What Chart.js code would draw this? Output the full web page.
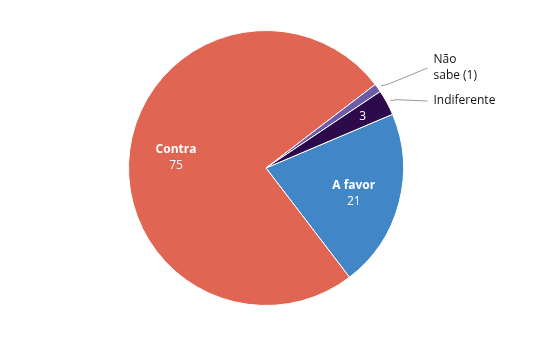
<!DOCTYPE html>
<html>
<head>
<meta charset="utf-8">
<script src="https://cdn.jsdelivr.net/npm/chart.js@4"></script>
<style>
  html, body { margin: 0; padding: 0; background: #fff; }
  #wrap { width: 544px; height: 353px; }
</style>
</head>
<body>
<div id="wrap"><canvas id="chart" width="544" height="353"></canvas></div>
<script>
const LABELS = ['A favor', 'Contra', 'Não sabe', 'Indiferente']
const VALUES = [21, 75, 1, 3]
const COLORS = ['#4186C6', '#E06552', '#6E5BA8', '#2C0A4C']

// how each slice gets its label: inside (name + value), value only, or outside with a leader line
const LABEL_MODE = ['inside', 'inside', 'outside', 'valueOnly']
const OUTSIDE_TEXT = { 2: ['Não', 'sabe (1)'], 3: ['Indiferente'] }
const OUTSIDE_DY = { 2: -100, 3: -67 }

const FONT = '"Open Sans", "DejaVu Sans", sans-serif'

const sliceLabels = {
  id: 'sliceLabels',
  afterDatasetsDraw(chart) {
    const ctx = chart.ctx
    const meta = chart.getDatasetMeta(0)
    meta.data.forEach((arc, i) => {
      const { x, y, startAngle, endAngle, outerRadius } = arc.getProps(['x', 'y', 'startAngle', 'endAngle', 'outerRadius'], true)
      const mid = (startAngle + endAngle) / 2
      const mode = LABEL_MODE[i]
      ctx.save()
      ctx.textAlign = 'center'
      ctx.textBaseline = 'middle'
      if (mode === 'inside') {
        const r = outerRadius * 0.66
        const px = x + Math.cos(mid) * r
        const py = y + Math.sin(mid) * r
        ctx.fillStyle = '#fff'
        ctx.font = 'bold 12px ' + FONT
        ctx.fillText(LABELS[i], px, py - 6)
        ctx.font = '12px ' + FONT
        ctx.fillText(String(VALUES[i]), px, py + 10)
      } else if (mode === 'valueOnly') {
        const r = outerRadius * 0.8
        ctx.fillStyle = '#fff'
        ctx.font = '12px ' + FONT
        ctx.fillText(String(VALUES[i]), x + Math.cos(mid) * r, y + Math.sin(mid) * r + 1)
      }
      if (OUTSIDE_TEXT[i]) {
        const sx = x + Math.cos(mid) * (outerRadius + 4)
        const sy = y + Math.sin(mid) * (outerRadius + 4)
        const ex = x + outerRadius + 24
        const ty = y + OUTSIDE_DY[i]
        const lines = OUTSIDE_TEXT[i]
        ctx.strokeStyle = '#999'
        ctx.lineWidth = 1
        ctx.beginPath()
        ctx.moveTo(sx, sy)
        ctx.lineTo(sx + 6, sy - 1)
        ctx.lineTo(ex, ty)
        ctx.stroke()
        ctx.fillStyle = '#111'
        ctx.font = '12px ' + FONT
        ctx.textAlign = 'left'
        const lh = 16
        const top = ty - (lines.length - 1) * lh / 2
        lines.forEach((t, k) => ctx.fillText(t, ex + 6, top + k * lh))
      }
      ctx.restore()
    })
  }
}

new Chart(document.getElementById('chart').getContext('2d'), {
  type: 'pie',
  data: {
    labels: LABELS,
    datasets: [{
      data: VALUES,
      backgroundColor: COLORS,
      borderColor: '#fff',
      borderWidth: 1,
    }]
  },
  options: {
    responsive: false,
    animation: false,
    rotation: 67,
    layout: { padding: { top: 30, bottom: 47, left: 0, right: 12 } },
    plugins: {
      legend: { display: false },
      tooltip: { enabled: false },
    },
  },
  plugins: [sliceLabels],
})
</script>
</body>
</html>
